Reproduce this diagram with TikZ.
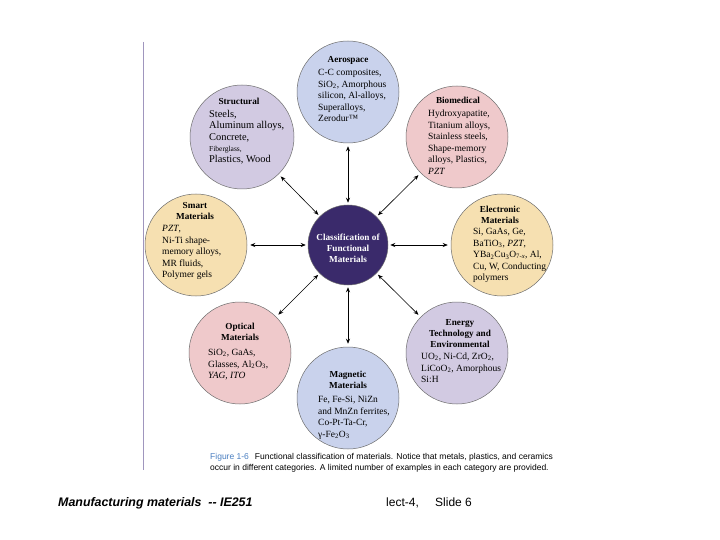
\documentclass[tikz,border=0pt]{standalone}
\usepackage{fontspec}
\setmainfont{Liberation Serif}
\newfontfamily\arialf{Liberation Sans}
\usetikzlibrary{arrows.meta}
\definecolor{cblue}{HTML}{C9D2EC}
\definecolor{clav}{HTML}{D2CAE2}
\definecolor{cpink}{HTML}{EFC9CB}
\definecolor{cbeige}{HTML}{F6E0B1}
\definecolor{cpurple}{HTML}{3A2A6B}
\definecolor{bordergray}{HTML}{6E6E6E}
\definecolor{capblue}{HTML}{4A7FC1}
\definecolor{vlinecol}{HTML}{A096BE}
\newcommand\cbody{\fontsize{9.5}{11.6}\selectfont}
\newcommand\ctitle{\bfseries\fontsize{9.2}{11}\selectfont}
\newcommand\tabl[1]{\begin{tabular}[t]{@{}l@{}}#1\end{tabular}}
\newcommand\tabc[1]{\begin{tabular}[t]{@{}c@{}}#1\end{tabular}}
\begin{document}
\begin{tikzpicture}[x=1pt,y=-1pt,
  circ/.style={circle, draw=bordergray, line width=0.5pt, minimum size=102pt, inner sep=0pt},
  ttl/.style={anchor=base, inner sep=0pt, font=\ctitle},
  bdy/.style={anchor=base west, inner sep=0pt, font=\cbody},
  arr/.style={{Stealth[length=5pt,width=4pt]}-{Stealth[length=5pt,width=4pt]}, line width=0.6pt, shorten <=2pt, shorten >=3pt},
  captxt/.style={anchor=base west, inner sep=0pt, font=\arialf\fontsize{8.5}{10}\selectfont},
  footxt/.style={anchor=base west, inner sep=0pt, font=\arialf\fontsize{12}{14}\selectfont}]
\useasboundingbox (0,0) rectangle (720,540);
\fill[white] (0,0) rectangle (720,540);
\coordinate (vtop) at (143,42);
\coordinate (vbot) at (143,470);
\draw[vlinecol, line width=0.8pt] (vtop) -- (vbot);

\node[circ, fill=cpurple, minimum size=80pt] (cen) at (348,245) {};
\node[circ, fill=cblue] (aero) at (348,92) {};
\node[circ, fill=clav, minimum size=104pt] (struct) at (242,137) {};
\node[circ, fill=cpink] (bio) at (457,137) {};
\node[circ, fill=cbeige] (smart) at (196,245) {};
\node[circ, fill=cbeige] (elec) at (502,245) {};
\node[circ, fill=cpink] (opt) at (240,353) {};
\node[circ, fill=clav] (energy) at (457,353) {};
\node[circ, fill=cblue] (magn) at (348,398) {};

\foreach \n in {aero,struct,bio,smart,elec,opt,energy,magn}
  \draw[arr] (cen) -- (\n);

\node[ttl] (aerot) at (348,62.5) {\tabc{Aerospace}};
\node[bdy] (aerob) at (318,75.5) {\tabl{C-C composites,\\ SiO\textsubscript{2}, Amorphous\\ silicon, Al-alloys,\\ Superalloys,\\ Zerodur™}};

\node[ttl] (structt) at (239,105) {\tabc{Structural}};
\node[bdy, font=\fontsize{10.4}{11.3}\selectfont] (structb) at (209,117.5) {\tabl{Steels,\\ Aluminum alloys,\\ Concrete,\\ {\fontsize{7.5}{11.3}\selectfont Fiberglass,}\\ Plastics, Wood}};

\node[ttl] (biot) at (458,103.5) {\tabc{Biomedical}};
\node[bdy] (biob) at (428,116.5) {\tabl{Hydroxyapatite,\\ Titanium alloys,\\ Stainless steels,\\ Shape-memory\\ alloys, Plastics,\\ \textit{PZT}}};

\node[ttl] (smartt) at (195,208.5) {\tabc{Smart\\ Materials}};
\node[bdy] (smartb) at (162,231.5) {\tabl{\textit{PZT},\\ Ni-Ti shape-\\ memory alloys,\\ MR fluids,\\ Polymer gels}};

\node[ttl] (elect) at (500,212.5) {\tabc{Electronic\\ Materials}};
\node[bdy] (elecb) at (473,234.5) {\tabl{Si, GaAs, Ge,\\ BaTiO\textsubscript{3}, \textit{PZT},\\ YBa\textsubscript{2}Cu\textsubscript{3}O\textsubscript{7-\textit{x}}, Al,\\ Cu, W, Conducting\\ polymers}};

\node[ttl, text=white] (cent) at (348,240.5) {\tabc{Classification of\\ Functional\\ Materials}};

\node[ttl] (optt) at (240,329.5) {\tabc{Optical\\ Materials}};
\node[bdy] (optb) at (208,355.5) {\tabl{SiO\textsubscript{2}, GaAs,\\ Glasses, Al\textsubscript{2}O\textsubscript{3},\\ \textit{YAG, ITO}}};

\node[ttl] (energyt) at (460,325.5) {\tabc{Energy\\ Technology and\\ Environmental}};
\node[bdy] (energyb) at (421,359.5) {\tabl{UO\textsubscript{2}, Ni-Cd, ZrO\textsubscript{2},\\ LiCoO\textsubscript{2}, Amorphous\\ Si:H}};

\node[ttl] (magnt) at (348,377.5) {\tabc{Magnetic\\ Materials}};
\node[bdy] (magnb) at (318,402.5) {\tabl{Fe, Fe-Si, NiZn\\ and MnZn ferrites,\\ Co-Pt-Ta-Cr,\\ γ-Fe\textsubscript{2}O\textsubscript{3}}};

\node[captxt] (cap1) at (210,459.5) {{\color{capblue}Figure 1-6}\hspace{0.7em}Functional classification of materials. Notice that metals, plastics, and ceramics};
\node[captxt] (cap2) at (210,470.5) {occur in different categories. A limited number of examples in each category are provided.};

\node[footxt, font=\arialf\bfseries\itshape\fontsize{12.4}{14}\selectfont] (foot1) at (58,506) {Manufacturing materials\ \ -{}- IE251};
\node[footxt] (foot2) at (386,506) {lect-4,};
\node[footxt] (foot3) at (435,506) {Slide 6};
\end{tikzpicture}
\end{document}
